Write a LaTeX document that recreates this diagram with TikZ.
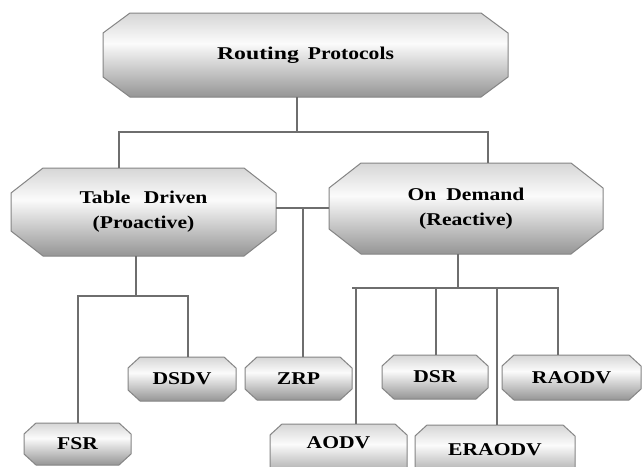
\documentclass[tikz,border=0pt]{standalone}
\usepackage{fontspec}
\setmainfont{Liberation Serif}[FakeStretch=1.2]
\newfontfamily\widefont{Liberation Serif}[FakeStretch=1.32]
\pgfdeclarelayer{back}
\pgfdeclarelayer{bg}
\pgfsetlayers{back,bg,main}
\definecolor{topg}{HTML}{D6D6D6}
\definecolor{midg}{HTML}{FBFBFB}
\definecolor{botg}{HTML}{959595}
\definecolor{edgeg}{HTML}{858585}
\definecolor{lineg}{HTML}{6E6E6E}
\pgfdeclareverticalshading{octshade}{100bp}{color(0bp)=(botg); color(25bp)=(botg); color(57bp)=(midg); color(75bp)=(topg); color(100bp)=(topg)}
\tikzset{
  lbl/.style={font=\fontsize{18}{25}\selectfont\bfseries, align=center, text=black, inner sep=0pt},
  boxn/.style={lbl, draw=none, outer sep=0pt},
  octo/.style={shading=octshade, draw=edgeg, line width=1pt},
  wire/.style={draw=lineg, line width=1.1pt},
}
\newcommand\octfill[3]{%
  \begin{pgfonlayer}{bg}
  \path[octo] ([xshift=#2]#1.north west) -- ([xshift=-#2]#1.north east)
    -- ([yshift=-#3]#1.north east) -- ([yshift=#3]#1.south east)
    -- ([xshift=-#2]#1.south east) -- ([xshift=#2]#1.south west)
    -- ([yshift=#3]#1.south west) -- ([yshift=-#3]#1.north west) -- cycle;
  \end{pgfonlayer}}
\begin{document}
\begin{tikzpicture}[x=1pt,y=-1pt]
\useasboundingbox (0,0) rectangle (642,466);
\begin{pgfonlayer}{back}
\fill[white] (0,0) rectangle (642,466);
\end{pgfonlayer}

% boxes
\node[boxn, minimum width=405pt, minimum height=84pt] (RP) at (305.5,55) {{\widefont Routing}\hspace{0.5em}Protocols};
\node[boxn, minimum width=265pt, minimum height=88pt] (TD) at (143.5,212) {Table\hspace{0.75em}Driven\\(Proactive)};
\node[boxn, minimum width=274pt, minimum height=91pt] (OD) at (466,208.5) {On\hspace{0.55em}Demand\\(Reactive)};
\node[boxn, minimum width=108pt, minimum height=44pt] (DSDV) at (182,379) {DSDV};
\node[boxn, minimum width=107pt, minimum height=43pt] (ZRP) at (298.5,378.5) {ZRP};
\node[boxn, minimum width=107pt, minimum height=42pt] (FSR) at (77.5,444) {FSR};
\node[boxn, minimum width=106pt, minimum height=44pt] (DSR) at (435,377) {DSR};
\node[boxn, minimum width=139pt, minimum height=45pt] (RAODV) at (571.5,377.5) {RAODV};
\node[boxn, minimum width=137pt, minimum height=56pt] (AODV) at (338.5,452) {};
\node[boxn, minimum width=160pt, minimum height=56pt] (ERAODV) at (495,453) {};
\node[lbl] (AODVt) at (338.5,443) {AODV};
\node[lbl] (ERAODVt) at (495,450) {ERAODV};

\octfill{RP}{27pt}{20pt}
\octfill{TD}{32pt}{25pt}
\octfill{OD}{32pt}{25pt}
\octfill{DSDV}{12pt}{11pt}
\octfill{ZRP}{12pt}{11pt}
\octfill{FSR}{12pt}{11pt}
\octfill{DSR}{12pt}{11pt}
\octfill{RAODV}{12pt}{11pt}
\octfill{AODV}{12pt}{11pt}
\octfill{ERAODV}{12pt}{11pt}

% junction points
\coordinate (j1) at (297,132);
\coordinate (a1) at (119,132);
\coordinate (a2) at (488,132);
\coordinate (b)  at (303,208);
\coordinate (c)  at (136,296);
\coordinate (c1) at (78,296);
\coordinate (c2) at (188,296);
\coordinate (d)  at (458,288);
\coordinate (d1) at (356,288);
\coordinate (d0) at (352,288);
\coordinate (d2) at (436,288);
\coordinate (d3) at (497,288);
\coordinate (d4) at (558,288);

\begin{pgfonlayer}{bg}
\draw[wire] (RP.south -| j1) -- (j1);
\draw[wire] (TD.north -| a1) -- (a1) -- (a2) -- (OD.north -| a2);
\draw[wire] (TD.east |- b) -- (OD.west |- b);
\draw[wire] (b) -- (ZRP.north -| b);
\draw[wire] (TD.south -| c) -- (c);
\draw[wire] (FSR.north -| c1) -- (c1) -- (c2) -- (DSDV.north -| c2);
\draw[wire] (OD.south -| d) -- (d);
\draw[wire] (d0) -- (d4) -- (RAODV.north -| d4);
\draw[wire] (d1) -- (AODV.north -| d1);
\draw[wire] (d2) -- (DSR.north -| d2);
\draw[wire] (d3) -- (ERAODV.north -| d3);
\end{pgfonlayer}
\end{tikzpicture}
\end{document}
